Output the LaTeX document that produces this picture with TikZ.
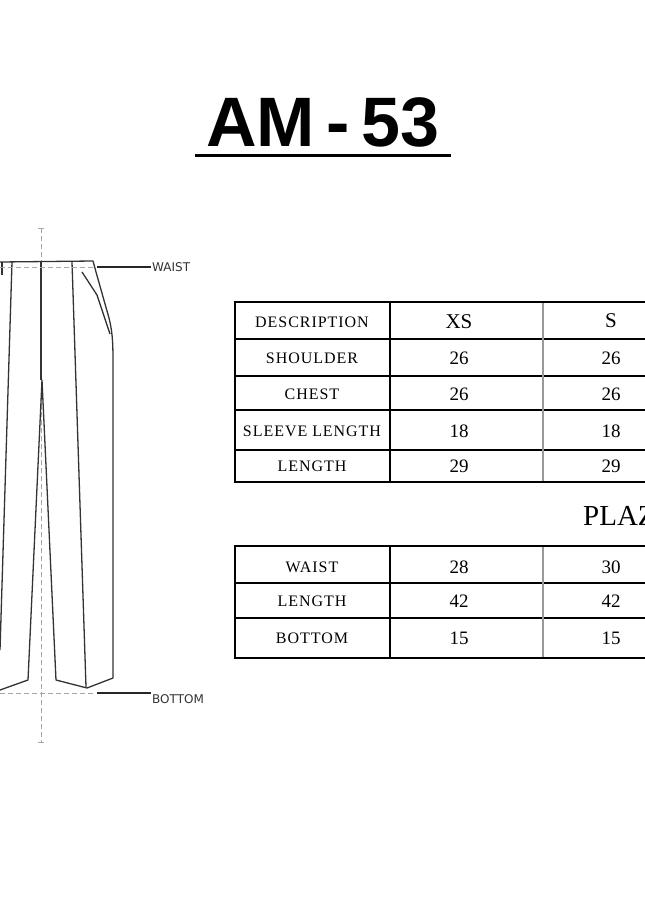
\documentclass[tikz,border=0pt]{standalone}
\usepackage{fontspec}
\setmainfont{Liberation Serif}
\newfontfamily\titlefont{Liberation Sans}
\newfontfamily\labelfont{DejaVu Sans}
\begin{document}
\begin{tikzpicture}[x=1pt,y=-1pt,
  garment/.style={line width=1.3pt, line join=round, color=black!80},
  guide/.style={dashed, gray!70, line width=1pt, dash pattern=on 5pt off 3pt},
  leader/.style={line width=1.5pt, black!85},
  tag/.style={anchor=west, font=\labelfont\fontsize{12}{13}\selectfont, text=black!80, inner sep=1pt},
  cell/.style={font=\fontsize{16}{18}\selectfont\addfontfeature{LetterSpace=6}, inner sep=0pt},
  num/.style={font=\fontsize{19}{21}\selectfont, inner sep=0pt},
  grid/.style={line width=1.4pt},
  split/.style={line width=1.2pt, gray!80}]
\useasboundingbox (0,0) rectangle (645,903);
\clip (0,0) rectangle (645,903);

% Title
\node[font=\titlefont\bfseries\fontsize{70}{76}\selectfont, inner sep=0pt] (title) at (323,122) {AM\,-\,53};
\draw[line width=3pt] (195,155) -- (451,155);

% Trousers sketch
\draw[guide] (41,228) -- (41,742);
\draw[gray!70, line width=0.8pt] (38,228) -- (44,228) (38,742) -- (44,742);
\draw[garment] (0,262) -- (93,261) -- (96,272) -- (109,318)
  .. controls (112,330) and (113,340) .. (113,360) -- (113,678)
  -- (87,688) -- (56,680) -- (42,380) -- (28,680) -- (0,690);
\draw[garment] (41,262) -- (41,380);
\draw[garment] (72,262) -- (86,687);
\draw[garment] (12,262) -- (0,650);
\draw[garment] (82,272) -- (97,295) -- (110,334);
\draw[garment] (2,262) -- (2,275);
\draw[guide] (0,267) -- (95,267);
\draw[guide] (0,693) -- (95,693);
\coordinate (waistend) at (97,267);
\coordinate (bottomend) at (97,693);
\node[tag] (waist) at (151,267) {WAIST};
\node[tag] (bottom) at (151,699) {BOTTOM};
\draw[leader] (waistend) -- (waistend -| waist.west);
\draw[leader] (bottomend) -- (bottomend -| bottom.west);

% Shirt table
\foreach \y in {339,376,410,450} \draw[grid] (235,\y) -- (700,\y);
\draw[split] (543,302) -- (543,482);
\draw[grid] (390,302) -- (390,482);
\draw[grid] (235,302) rectangle (700,482);
\foreach \lab/\y in {DESCRIPTION/322, SHOULDER/358, CHEST/394, SLEEVE LENGTH/431, LENGTH/466}
  \node[cell] at (312,\y) {\lab};
\foreach \xs/\s/\y in {26/26/358, 26/26/394, 18/18/431, 29/29/466}{
  \node[num] at (459,\y) {\xs};
  \node[num] at (611,\y) {\s};}
\node[num, font=\fontsize{21}{23}\selectfont] at (459,322) {XS};
\node[num, font=\fontsize{21}{23}\selectfont] at (611,321) {S};

% Plazo table
\node[anchor=west, inner sep=0pt, font=\fontsize{29}{31}\selectfont] (plazo) at (583,516) {PLAZO};
\foreach \y in {583,618} \draw[grid] (235,\y) -- (700,\y);
\draw[split] (543,546) -- (543,658);
\draw[grid] (390,546) -- (390,658);
\draw[grid] (235,546) rectangle (700,658);
\foreach \lab/\xs/\s/\y in {WAIST/28/30/567, LENGTH/42/42/601, BOTTOM/15/15/638}{
  \node[cell] at (312,\y) {\lab};
  \node[num] at (459,\y) {\xs};
  \node[num] at (611,\y) {\s};}
\end{tikzpicture}
\end{document}
